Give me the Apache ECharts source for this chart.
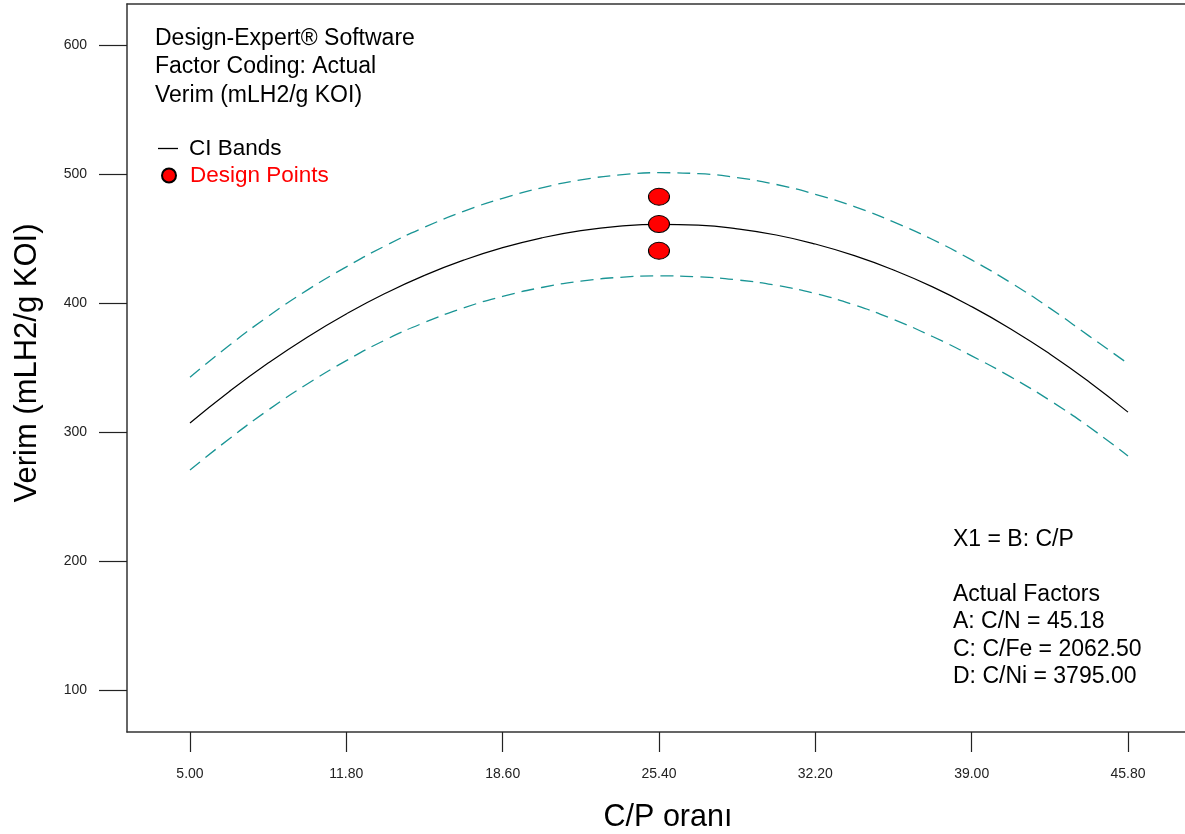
<!DOCTYPE html>
<html>
<head>
<meta charset="utf-8">
<script src="https://cdn.jsdelivr.net/npm/echarts@6/dist/echarts.min.js"></script>
<style>
html,body{margin:0;padding:0;background:#fff;}
#chart{width:1185px;height:834px;}
</style>
</head>
<body>
<div id="chart"></div>
<script>
// ---- data ----
const xValues   = [5, 6.7, 8.4, 10.1, 11.8, 13.5, 15.2, 16.9, 18.6, 20.3, 22, 23.7, 25.4, 27.1, 28.8, 30.5, 32.2, 33.9, 35.6, 37.3, 39, 40.7, 42.4, 44.1, 45.8];
const predicted = [307, 331.2, 353.4, 373.5, 391.5, 407.5, 421.4, 433.2, 442.9, 450.5, 456.1, 459.6, 461, 460.3, 457.5, 452.7, 445.7, 436.7, 425.6, 412.5, 397.2, 379.9, 360.5, 339, 315.4];
const upperCI   = [342.5, 367, 389.6, 410, 428, 444.4, 458.7, 471, 481.2, 489.3, 495.4, 499.3, 501, 500.3, 497.2, 491.9, 484.3, 474.7, 462.9, 449.2, 433.4, 415.7, 396, 374.5, 353];
const lowerCI   = [270.5, 294.6, 317, 337.2, 355.3, 371.4, 384.9, 396.2, 405.1, 412, 416.9, 419.9, 421, 420.3, 417.9, 413.7, 407.3, 398.5, 387.3, 374, 359, 342.7, 324.5, 304, 281.4];
const designX   = [25.4, 25.4, 25.4];
const designY   = [482.4, 461.2, 440.5];
const xTicks    = [5, 11.8, 18.6, 25.4, 32.2, 39, 45.8];
const yTicks    = [100, 200, 300, 400, 500, 600];

const infoTopLeft = ['Design-Expert® Software', 'Factor Coding: Actual', 'Verim (mLH2/g KOI)'];
const infoBottomRight = ['X1 = B: C/P', '', 'Actual Factors', 'A: C/N = 45.18', 'C: C/Fe = 2062.50', 'D: C/Ni = 3795.00'];

const pairs = (xs, ys) => xs.map((x, i) => [x, ys[i]]);
const FONT = '"Liberation Sans", Arial, sans-serif';
const X_MIN = 2.26, X_MAX = 48.28, Y_MIN = 67.4, Y_MAX = 631.8;

const chart = echarts.init(document.getElementById('chart'), null, {renderer: 'canvas'});
chart.setOption({
  animation: false,
  backgroundColor: '#fff',
  textStyle: {fontFamily: FONT},
  title: [
    {text: infoTopLeft.join('\n'), left: 155, top: 24, padding: 0,
     textStyle: {fontSize: 23, fontWeight: 'normal', color: '#000', lineHeight: 28.5, fontFamily: FONT}},
    {text: infoBottomRight.join('\n'), left: 953, top: 526, padding: 0,
     textStyle: {fontSize: 23, fontWeight: 'normal', color: '#000', lineHeight: 27.4, fontFamily: FONT}}
  ],
  legend: [
    {data: [{name: 'CI Bands', icon: 'rect', itemStyle: {color: '#000', borderWidth: 0}}],
     left: 158, top: 137, padding: 0, itemWidth: 20, itemHeight: 1.3,
     textStyle: {fontSize: 22.5, color: '#000', fontFamily: FONT, padding: [0, 0, 0, 6]}},
    {data: [{name: 'Design Points', icon: 'circle'}],
     left: 161, top: 164, padding: 0, itemWidth: 14, itemHeight: 14,
     textStyle: {fontSize: 22.5, color: '#ff0000', fontFamily: FONT, padding: [0, 0, 0, 9]}}
  ],
  grid: {left: 127, top: 4, right: 0, bottom: 102, containLabel: false, outerBoundsMode: 'none'},
  xAxis: [
    {type: 'value', position: 'bottom', min: X_MIN, max: X_MAX,
     axisLine: {show: true, lineStyle: {color: '#333', width: 1.5}},
     axisTick: {show: true, customValues: xTicks, length: 20, inside: false, lineStyle: {color: '#222', width: 1.2}},
     axisLabel: {customValues: xTicks, formatter: v => v.toFixed(2), margin: 35, fontSize: 14, color: '#222', fontFamily: FONT},
     splitLine: {show: false},
     name: 'C/P oranı', nameLocation: 'middle', nameGap: 70,
     nameTextStyle: {fontSize: 30.5, color: '#000', fontFamily: FONT, padding: [0, 0, 0, 24]}},
    {type: 'value', position: 'top', min: X_MIN, max: X_MAX,
     axisLine: {show: true, lineStyle: {color: '#333', width: 1.5}},
     axisTick: {show: false}, axisLabel: {show: false}, splitLine: {show: false}}
  ],
  yAxis: {
    type: 'value', min: Y_MIN, max: Y_MAX,
    axisLine: {show: true, lineStyle: {color: '#333', width: 1.5}},
    axisTick: {show: true, customValues: yTicks, length: 28, inside: false, lineStyle: {color: '#222', width: 1.2}},
    axisLabel: {customValues: yTicks, margin: 40, fontSize: 14, color: '#222', fontFamily: FONT},
    splitLine: {show: false},
    name: 'Verim (mLH2/g KOI)', nameLocation: 'middle', nameGap: 84,
    nameTextStyle: {fontSize: 31, color: '#000', fontFamily: FONT, padding: [0, 0, 0, 10]}
  },
  series: [
    {name: 'Predicted', type: 'line', data: pairs(xValues, predicted), smooth: true,
     showSymbol: false, color: '#000', lineStyle: {color: '#000', width: 1.2}, z: 3},
    {name: 'CI Bands', type: 'line', data: pairs(xValues, upperCI), smooth: true,
     showSymbol: false, color: '#1a9595', lineStyle: {color: '#1a9595', width: 1.3, type: [13, 7]}, z: 2},
    {name: 'CI Bands', type: 'line', data: pairs(xValues, lowerCI), smooth: true,
     showSymbol: false, color: '#1a9595', lineStyle: {color: '#1a9595', width: 1.3, type: [13, 7]}, z: 2},
    {name: 'Design Points', type: 'scatter', data: pairs(designX, designY),
     symbol: 'circle', symbolSize: [21, 17],
     itemStyle: {color: '#ff0000', borderColor: '#000', borderWidth: 1, opacity: 1}, z: 4}
  ]
});
</script>
</body>
</html>
